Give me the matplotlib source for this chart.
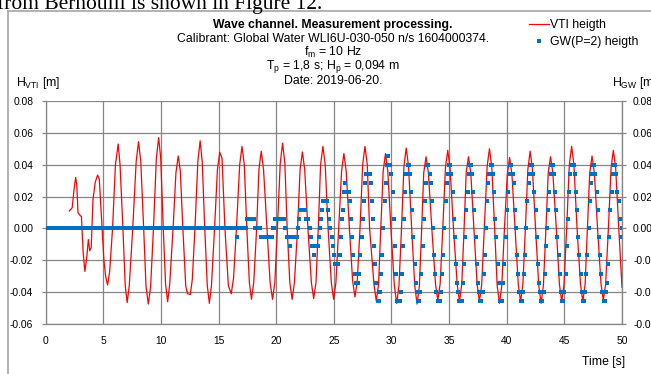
"""Wave channel measurement: VTI vs GW wave heights."""

import matplotlib.pyplot as plt
import numpy as np
from matplotlib.lines import Line2D

plt.rcParams['font.family'] = ['Liberation Sans', 'DejaVu Sans']
plt.rcParams['mathtext.fontset'] = 'custom'
plt.rcParams['mathtext.rm'] = 'Liberation Sans'
plt.rcParams['mathtext.it'] = 'Liberation Sans:italic'

# VTI wave height (time [s], height [m])
vti_time = [
    2.05, 2.3, 2.45, 2.6, 2.7, 2.8, 3.0, 3.1, 3.25, 3.4, 3.55, 3.7, 3.82, 3.95,
    4.1, 4.3, 4.5, 4.65, 4.85, 5.05, 5.2, 5.37, 5.55, 5.8, 6.05, 6.29, 6.45,
    6.7, 6.9, 7.07, 7.25, 7.55, 7.85, 8.05, 8.25, 8.5, 8.7, 8.9, 9.1, 9.35,
    9.6, 9.8, 9.98, 10.2, 10.4, 10.58, 10.76, 11.05, 11.3, 11.5, 11.68, 11.9,
    12.15, 12.3, 12.55, 12.72, 12.95, 13.2, 13.4, 13.58, 13.8, 14.02, 14.2,
    14.38, 14.65, 14.9, 15.1, 15.3, 15.55, 15.85, 16.1, 16.3, 16.55, 16.83,
    17.03, 17.23, 17.45, 17.67, 17.85, 18.05, 18.3, 18.5, 18.7, 18.9, 19.2,
    19.47, 19.68, 19.88, 20.1, 20.35, 20.55, 20.75, 20.95, 21.18, 21.38, 21.58,
    21.85, 22.07, 22.27, 22.47, 22.75, 23.05, 23.25, 23.45, 23.65, 23.85,
    24.05, 24.25, 24.5, 24.78, 24.98, 25.18, 25.42, 25.67, 25.87, 26.07, 26.35,
    26.63, 26.83, 27.03, 27.27, 27.5, 27.7, 27.9, 28.1, 28.48, 28.68, 28.88,
    29.07, 29.28, 29.48, 29.68, 29.95, 30.25, 30.45, 30.65, 30.87, 31.08,
    31.28, 31.48, 31.75, 32.02, 32.22, 32.42, 32.62, 32.8, 33.0, 33.2, 33.5,
    33.82, 34.02, 34.22, 34.45, 34.68, 34.88, 35.08, 35.38, 35.7, 35.9, 36.1,
    36.3, 36.48, 36.68, 36.88, 37.15, 37.43, 37.63, 37.83, 38.05, 38.3, 38.5,
    38.7, 38.95, 39.17, 39.37, 39.57, 39.8, 40.05, 40.25, 40.45, 40.72, 41.0,
    41.2, 41.4, 41.62, 41.83, 42.03, 42.23, 42.5, 42.78, 42.98, 43.18, 43.4,
    43.6, 43.8, 44.0, 44.3, 44.57, 44.77, 44.97, 45.2, 45.43, 45.63, 45.83,
    46.1, 46.4, 46.6, 46.8, 47.0, 47.2, 47.4, 47.6, 47.88, 48.18, 48.38,
    48.58, 48.82, 49.05, 49.25, 49.45, 49.72, 50.0,
]
vti_height = [
    0.011, 0.013, 0.024, 0.032, 0.027, 0.010, 0.008, 0.0075, -0.015, -0.027,
    -0.019, -0.007, -0.014, -0.012, 0.018, 0.029, 0.0335, 0.031, 0.005, -0.020,
    -0.030, -0.0355, -0.027, 0.0, 0.040, 0.053, 0.040, 0.0, -0.036, -0.0465,
    -0.036, 0.0, 0.042, 0.0545, 0.042, 0.0, -0.036, -0.0475, -0.037, 0.0,
    0.044, 0.057, 0.044, 0.0, -0.035, -0.046, -0.035, 0.0, 0.035, 0.0455,
    0.036, 0.0, -0.036, -0.041, -0.0415, -0.032, 0.0, 0.042, 0.055, 0.042,
    0.0, -0.036, -0.047, -0.036, 0.0, 0.037, 0.0478, 0.044, 0.0, -0.036,
    -0.041, -0.031, 0.0, 0.040, 0.0515, 0.040, 0.0, -0.034, -0.0445, -0.034,
    0.0, 0.037, 0.0485, 0.037, 0.0, -0.034, -0.0445, -0.034, 0.0, 0.041,
    0.0535, 0.041, 0.0, -0.034, -0.0445, -0.034, 0.0, 0.037, 0.048, 0.037,
    0.0, -0.034, -0.044, -0.034, 0.0, 0.040, 0.0515, 0.040, 0.0, -0.034,
    -0.0445, -0.034, 0.0, 0.036, 0.047, 0.036, 0.0, -0.033, -0.043, -0.033,
    0.0, 0.040, 0.0515, 0.040, 0.0, -0.035, -0.0455, -0.035, 0.0, 0.036,
    0.047, 0.036, 0.0, -0.036, -0.047, -0.036, 0.0, 0.039, 0.0505, 0.039,
    0.0, -0.036, -0.0475, -0.036, 0.0, 0.035, 0.045, 0.035, 0.0, -0.035,
    -0.045, -0.035, 0.0, 0.038, 0.049, 0.038, 0.0, -0.035, -0.046, -0.035,
    0.0, 0.035, 0.045, 0.035, 0.0, -0.035, -0.046, -0.035, 0.0, 0.039,
    0.050, 0.039, 0.0, -0.036, -0.047, -0.036, 0.0, 0.034, 0.0445, 0.034,
    0.0, -0.035, -0.046, -0.035, 0.0, 0.037, 0.0485, 0.037, 0.0, -0.036,
    -0.047, -0.036, 0.0, 0.035, 0.045, 0.035, 0.0, -0.035, -0.046, -0.035,
    0.0, 0.040, 0.0515, 0.040, 0.0, -0.035, -0.046, -0.035, 0.0, 0.035,
    0.0455, 0.035, 0.0, -0.035, -0.045, -0.035, 0.0, 0.038, 0.049, 0.038,
    0.0, -0.037,
]

# GW(P=2) gauge, sampled at 10 Hz from t = 0 s, in level steps of GW_STEP
GW_STEP = 0.00566
GW_DT = 0.1
gw_levels = [0] * 165 + [
    0, -1, 0, 0, 0,
    0, 0, 0, 0, 0, 1, 1, 1, 1, 1,
    1, 1, 0, 0, 0, 0, 0, -1, -1, -1,
    -1, -1, -1, -1, -1, -1, -1, 0, 0, 1,
    1, 1, 1, 1, 1, 1, 1, 1, 0, -1,
    -1, -1, -2, -1, -1, -1, -1, -1, -1, 0,
    1, 2, 2, 2, 2, 2, 1, 1, 1, 0,
    -1, -2, -2, -3, -2, -2, -2, -1, 0, 1,
    2, 3, 3, 3, 3, 2, 1, 0, -1, -2,
    -3, -4, -4, -4, -4, -3, -1, 1, 2, 4,
    5, 4, 4, 4, 3, 1, -1, -3, -5, -6,
    -6, -6, -5, -3, -1, 1, 3, 5, 6, 6,
    6, 6, 5, 3, 1, -2, -4, -6, -8, -8,
    -7, -5, -3, 0, 3, 5, 7, 8, 7, 7,
    6, 4, 1, -2, -5, -8, -8, -8, -7, -5,
    -2, 1, 4, 6, 7, 7, 6, 4, 2, -1,
    -4, -6, -7, -8, -8, -7, -5, -2, 1, 3,
    5, 7, 7, 6, 5, 3, 0, -3, -5, -7,
    -8, -8, -8, -7, -5, -3, 0, 3, 5, 6,
    7, 7, 6, 4, 1, -1, -4, -6, -7, -8,
    -8, -8, -6, -4, -1, 2, 4, 6, 7, 7,
    6, 4, 2, -1, -4, -6, -7, -8, -8, -7,
    -5, -3, 0, 3, 5, 6, 7, 7, 6, 4,
    1, -1, -4, -6, -8, -8, -8, -6, -4, -1,
    2, 4, 6, 7, 7, 6, 5, 2, 0, -3,
    -5, -7, -8, -8, -7, -5, -3, 0, 3, 5,
    6, 7, 7, 6, 4, 2, -1, -4, -6, -7,
    -8, -8, -7, -5, -2, 0, 2, 4, 6, 7,
    7, 6, 4, 2, -1, -3, -5, -7, -8, -8,
    -7, -5, -2, 1, 4, 6, 7, 7, 7, 6,
    4, 2, -1, -3, -5, -7, -8, -8, -7, -5,
    -3, 0, 3, 5, 6, 7, 7, 6, 4, 2,
    -1, -3, -5, -7, -8, -8, -7, -6, -4, -1,
    2, 4, 6, 7, 7, 6, 4, 3, 1, -1,
    0,
]

gw_time = np.arange(len(gw_levels)) * GW_DT
gw_height = np.array(gw_levels) * GW_STEP

y_ticks = np.arange(-0.06, 0.081, 0.02)
x_ticks = np.arange(0, 51, 5)
GRID = '#868686'
FS = 7.4
TFS = 8.8

fig = plt.figure(figsize=(6.51, 3.74), dpi=100)

# frame of the embedded chart and the cut-off document line above it
fig.add_artist(Line2D([8 / 651, 8 / 651], [0, 1 - 11 / 374], color='#a6a6a6', lw=1.2))
fig.add_artist(Line2D([8 / 651, 1], [1 - 11 / 374, 1 - 11 / 374], color='#a6a6a6', lw=1.2))
fig.text(-0.004, 1 - 8.5 / 374, 'from Bernoulli is shown in Figure 12.',
         family='Liberation Serif', fontsize=15.5, va='baseline', ha='left')

ax = fig.add_axes([45.7 / 651, 1 - 324 / 374, 576.3 / 651, 223 / 374])
ax.plot(vti_time, vti_height, color='#ff0000', lw=0.9, label='VTI heigth', zorder=3)
ax.plot(gw_time, gw_height, ls='none', marker='s', ms=2.9, mew=0,
        color='#0070c0', label='GW(P=2) heigth', zorder=4)

ax.set_xlim(0, 50)
ax.set_ylim(-0.06, 0.08)
ax.set_xticks(x_ticks)
ax.set_yticks(y_ticks)
ax.set_yticklabels(['%.2f' % v for v in y_ticks])
ax.grid(True, color=GRID, lw=0.9)
ax.set_axisbelow(True)
ax.tick_params(axis='x', length=0, pad=9, labelsize=FS)
ax.tick_params(axis='y', length=3, width=0.9, color=GRID, pad=6, labelsize=FS)
for side in ['left', 'bottom', 'right']:
    ax.spines[side].set_color(GRID)
    ax.spines[side].set_linewidth(0.9)
ax.spines['top'].set_visible(False)

ax2 = ax.twinx()
ax2.set_ylim(-0.06, 0.08)
ax2.set_yticks(y_ticks)
ax2.set_yticklabels(['%.2f' % v for v in y_ticks])
ax2.tick_params(axis='y', length=3, width=0.9, color=GRID, pad=5, labelsize=FS)
for side in ['left', 'bottom', 'top']:
    ax2.spines[side].set_visible(False)
ax2.spines['right'].set_color(GRID)

# titles
title_x = 333 / 651
fig.text(title_x, 1 - 25 / 374, 'Wave channel. Measurement processing.',
         ha='center', va='center', fontsize=TFS, fontweight='bold')
fig.text(title_x, 1 - 39 / 374, 'Calibrant: Global Water WLI6U-030-050 n/s 1604000374.',
         ha='center', va='center', fontsize=TFS)
fig.text(title_x, 1 - 52 / 374, r'f$_\mathrm{m}$ = 10 Hz',
         ha='center', va='center', fontsize=TFS)
fig.text(title_x, 1 - 66.5 / 374, r'T$_\mathrm{p}$ = 1,8 s; H$_\mathrm{p}$ = 0,094 m',
         ha='center', va='center', fontsize=TFS)
fig.text(title_x, 1 - 80.5 / 374, 'Date: 2019-06-20.',
         ha='center', va='center', fontsize=TFS)

fig.text(16 / 651, 1 - 83 / 374, r'H$_\mathrm{VTI}$ [m]', ha='left', va='center', fontsize=TFS)
fig.text(612 / 651, 1 - 83 / 374, r'H$_\mathrm{GW}$ [m]', ha='left', va='center', fontsize=TFS)
fig.text(625 / 651, 1 - 362 / 374, 'Time [s]', ha='right', va='center', fontsize=TFS)

ax.legend(loc='upper left', bbox_to_anchor=(529 / 651, 1 - 19 / 374),
          bbox_transform=fig.transFigure, frameon=False, fontsize=TFS,
          handlelength=1.6, handletextpad=0.1, labelspacing=0.4,
          borderaxespad=0, borderpad=0)

fig.savefig('out.png', dpi=100)
